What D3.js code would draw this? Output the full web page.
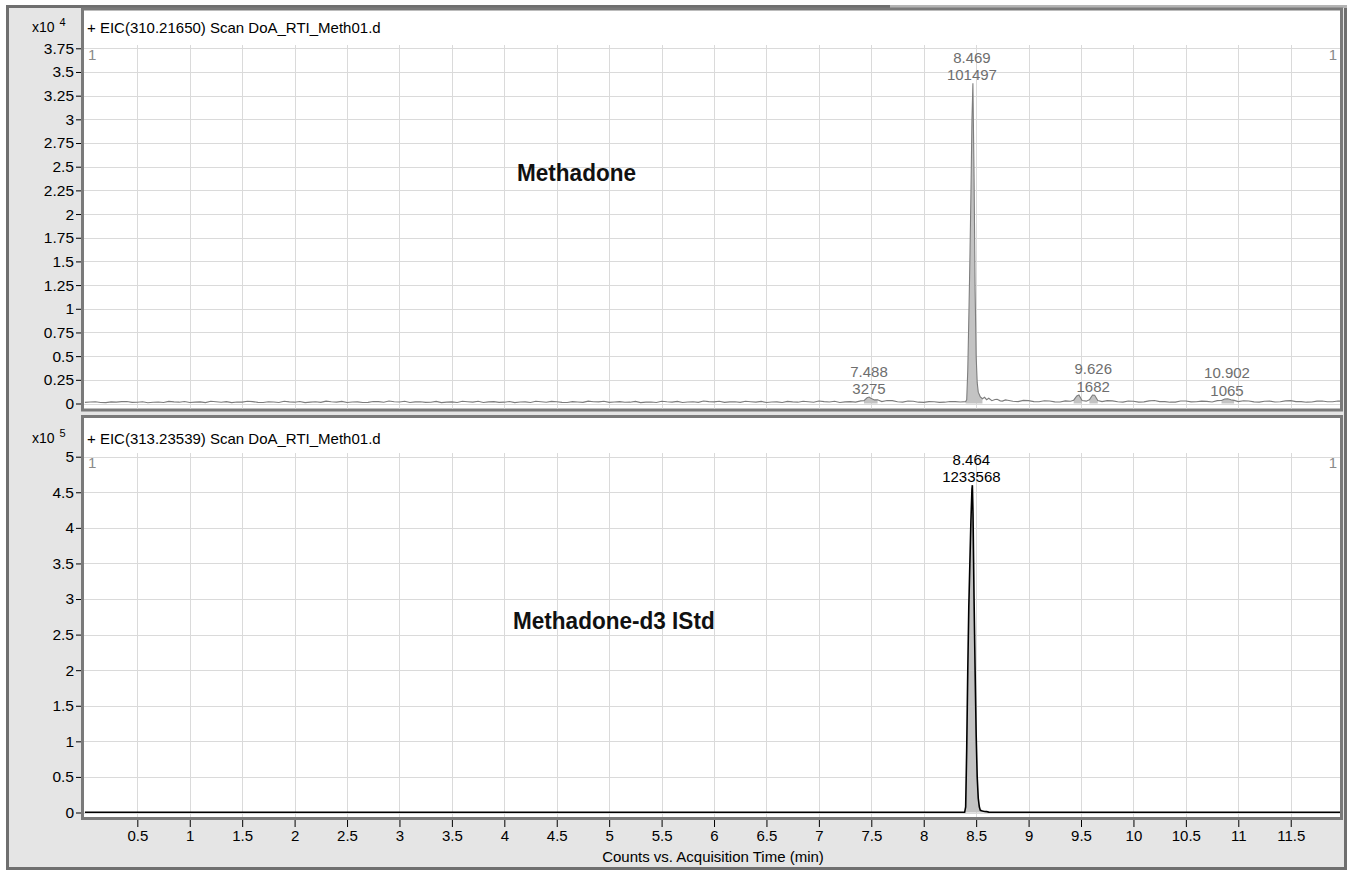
<!DOCTYPE html>
<html><head><meta charset="utf-8">
<script src="https://cdn.jsdelivr.net/npm/d3@7"></script>
<style>
html,body{margin:0;padding:0;background:#fff;}
svg{display:block;}
text{font-family:"Liberation Sans",Arial,sans-serif;}
</style>
</head><body>
<svg id="c" width="1349" height="873"></svg>
<script>
// ---------- data ----------
const xTicks = [0.5,1,1.5,2,2.5,3,3.5,4,4.5,5,5.5,6,6.5,7,7.5,8,8.5,9,9.5,10,10.5,11,11.5];
const topYTicks = [0,0.25,0.5,0.75,1,1.25,1.5,1.75,2,2.25,2.5,2.75,3,3.25,3.5,3.75]; // x10^4
const botYTicks = [0,0.5,1,1.5,2,2.5,3,3.5,4,4.5,5];                                 // x10^5
const topTitle = "+ EIC(310.21650) Scan DoA_RTI_Meth01.d";
const botTitle = "+ EIC(313.23539) Scan DoA_RTI_Meth01.d";
const topCompound = "Methadone";
const botCompound = "Methadone-d3 IStd";
const xAxisTitle = "Counts vs. Acquisition Time (min)";

// EIC 310.21650 : [time (min), counts]
const topTrace = [
 [0.00,120],[0.05,160],[0.10,180],[0.15,110],[0.20,90],[0.25,170],[0.30,150],[0.35,200],[0.40,210],[0.45,120],
 [0.50,130],[0.55,190],[0.60,80],[0.65,140],[0.70,160],[0.75,100],[0.80,220],[0.85,170],[0.90,140],[0.95,210],
 [1.00,100],[1.05,150],[1.10,170],[1.15,90],[1.20,240],[1.25,180],[1.30,130],[1.35,200],[1.40,90],[1.45,160],
 [1.50,150],[1.55,230],[1.60,200],[1.65,120],[1.70,110],[1.75,190],[1.80,160],[1.85,100],[1.90,230],[1.95,170],
 [2.00,140],[2.05,210],[2.10,90],[2.15,150],[2.20,180],[2.25,120],[2.30,250],[2.35,190],[2.40,150],[2.45,220],
 [2.50,100],[2.55,160],[2.60,170],[2.65,110],[2.70,120],[2.75,210],[2.80,200],[2.85,140],[2.90,260],[2.95,180],
 [3.00,160],[3.05,230],[3.10,110],[3.15,170],[3.20,190],[3.25,120],[3.30,130],[3.35,220],[3.40,90],[3.45,150],
 [3.50,170],[3.55,110],[3.60,240],[3.65,190],[3.70,150],[3.75,230],[3.80,110],[3.85,170],[3.90,200],[3.95,120],
 [4.00,140],[4.05,210],[4.10,90],[4.15,160],[4.20,170],[4.25,110],[4.30,230],[4.35,180],[4.40,140],[4.45,220],
 [4.50,180],[4.55,120],[4.60,110],[4.65,200],[4.70,160],[4.75,120],[4.80,250],[4.85,190],[4.90,170],[4.95,230],
 [5.00,120],[5.05,160],[5.10,200],[5.15,130],[5.20,140],[5.25,220],[5.30,90],[5.35,150],[5.40,160],[5.45,110],
 [5.50,230],[5.55,180],[5.60,150],[5.65,220],[5.70,100],[5.75,160],[5.80,190],[5.85,120],[5.90,260],[5.95,200],
 [6.00,170],[6.05,240],[6.10,120],[6.15,170],[6.20,180],[6.25,120],[6.30,240],[6.35,190],[6.40,150],[6.45,220],
 [6.50,100],[6.55,160],[6.60,170],[6.65,110],[6.70,220],[6.75,170],[6.80,140],[6.85,230],[6.90,190],[6.95,140],
 [7.00,260],[7.05,200],[7.10,160],[7.15,230],[7.20,110],[7.25,170],[7.30,200],[7.35,150],[7.40,280],[7.43,300],
 [7.46,600],[7.48,680],[7.50,520],[7.53,380],[7.56,400],[7.60,200],[7.65,320],[7.70,300],[7.75,190],[7.80,150],
 [7.85,260],[7.90,230],[7.95,140],[8.00,120],[8.05,200],[8.10,180],[8.15,120],[8.20,140],[8.25,210],[8.30,200],
 [8.35,160],[8.40,200],[8.41,400],[8.42,3500],[8.43,9000],[8.44,15000],[8.45,22000],[8.46,30000],[8.469,33800],[8.48,24000],
 [8.49,12000],[8.50,5000],[8.51,2200],[8.52,1200],[8.54,700],[8.56,500],[8.58,650],[8.60,400],[8.62,550],[8.65,300],
 [8.68,420],[8.70,450],[8.73,280],[8.75,250],[8.78,380],[8.80,350],[8.85,240],[8.90,200],[8.95,330],[9.00,300],
 [9.05,200],[9.10,180],[9.15,290],[9.20,260],[9.25,170],[9.30,160],[9.35,280],[9.40,240],[9.43,350],[9.46,800],
 [9.48,900],[9.51,320],[9.55,250],[9.58,400],[9.61,900],[9.63,880],[9.66,320],[9.70,200],[9.75,300],[9.80,280],
 [9.85,180],[9.90,150],[9.95,260],[10.00,230],[10.05,150],[10.10,170],[10.15,280],[10.20,310],[10.25,200],[10.30,200],
 [10.35,140],[10.40,150],[10.45,270],[10.50,260],[10.55,170],[10.60,180],[10.65,250],[10.70,220],[10.75,160],[10.80,300],
 [10.84,320],[10.87,480],[10.90,500],[10.93,400],[10.96,330],[11.00,200],[11.05,290],[11.10,260],[11.15,170],[11.20,150],
 [11.25,240],[11.30,250],[11.35,160],[11.40,180],[11.45,280],[11.50,300],[11.55,200],[11.60,200],[11.65,140],[11.70,160],
 [11.75,250],[11.80,270],[11.85,180],[11.90,190],[11.95,260],[12.00,230]
];
// EIC 313.23539 : [time (min), counts]
const botTrace = [
 [0.0,300],[2.0,300],[4.0,300],[6.0,300],[8.0,300],[8.39,300],[8.40,8000],[8.41,90000],[8.42,200000],[8.43,290000],
 [8.44,350000],[8.45,410000],[8.46,455000],[8.464,460000],[8.47,420000],[8.48,300000],[8.49,200000],[8.50,110000],[8.51,50000],[8.52,20000],
 [8.53,8000],[8.54,3000],[8.56,2000],[8.58,1500],[8.60,1200],[8.62,500],[8.63,300],[10.0,300],[12.0,300]
];
// integrated peaks: retention time, area, integration window
const topPeakRT   = [7.488, 8.469, 9.626, 10.902];
const topPeakArea = [3275, 101497, 1682, 1065];
const topWindows  = [[7.43,7.56],[8.40,8.56],[9.43,9.51],[9.58,9.66],[10.84,10.96]];
const botPeakRT   = [8.464];
const botPeakArea = [1233568];
const botWindows  = [[8.39,8.60]];

// ---------- layout ----------
const svg = d3.select("#c");
const W = 1349, H = 873;
const plotL = 84, plotR = 1340;

svg.append("rect").attr("width",W).attr("height",H).attr("fill","#ffffff");
svg.append("rect").attr("x",7.5).attr("y",6.5).attr("width",1338).attr("height",862)
   .attr("fill","#e5e5e5").attr("stroke","#6f6f6f").attr("stroke-width",3);
// lighter right part of the top frame edge
svg.append("line").attr("x1",890).attr("x2",1347).attr("y1",6.5).attr("y2",6.5)
   .attr("stroke","#b4b4b4").attr("stroke-width",3);

const x = d3.scaleLinear().domain([0, 11.97]).range([84.9, plotR]);

const panels = [
  {top:9, bottom:410, y:d3.scaleLinear().domain([0,37500]).range([403.5,48.3]), ticks:topYTicks, mult:1e4, exp:"4",
   title:topTitle, trace:topTrace, rts:topPeakRT, areas:topPeakArea, wins:topWindows,
   lineColor:"#7d7d7d", labelColor:"#6e6e6e", lineW:1.1, compound:topCompound, cy:181, cx:517, titleY:33, gridTop:45},
  {top:416.5, bottom:818.5, y:d3.scaleLinear().domain([0,500000]).range([812.5,456.7]), ticks:botYTicks, mult:1e5, exp:"5",
   title:botTitle, trace:botTrace, rts:botPeakRT, areas:botPeakArea, wins:botWindows,
   lineColor:"#000000", labelColor:"#000000", lineW:1.6, compound:botCompound, cy:629, cx:513, titleY:444, gridTop:453}
];

panels.forEach((p,i)=>{
  const g = svg.append("g");
  g.append("rect").attr("x",82.5).attr("y",p.top).attr("width",1259).attr("height",p.bottom-p.top)
    .attr("fill","#ffffff").attr("stroke","#7a7a7a").attr("stroke-width",3);
  const clipId = "clip"+i;
  svg.append("clipPath").attr("id",clipId).append("rect")
    .attr("x",plotL).attr("y",p.top+1.5).attr("width",plotR-plotL).attr("height",p.bottom-p.top-3);
  const inner = g.append("g").attr("clip-path","url(#"+clipId+")");
  // grid
  inner.selectAll(".vg").data(xTicks).join("line")
    .attr("x1",d=>Math.round(x(d))+0.5).attr("x2",d=>Math.round(x(d))+0.5)
    .attr("y1",p.gridTop).attr("y2",p.bottom).attr("stroke","#dadada").attr("stroke-width",1);
  inner.selectAll(".hg").data(p.ticks).join("line")
    .attr("x1",plotL).attr("x2",plotR)
    .attr("y1",d=>Math.round(p.y(d*p.mult))+0.5).attr("y2",d=>Math.round(p.y(d*p.mult))+0.5)
    .attr("stroke","#dadada").attr("stroke-width",1);
  // filled integrated peaks
  p.wins.forEach(w=>{
    const pts = p.trace.filter(d=>d[0]>=w[0]-1e-9 && d[0]<=w[1]+1e-9);
    inner.append("path").datum(pts)
      .attr("d", d3.area().x(d=>x(d[0])).y0(p.y(0)).y1(d=>p.y(d[1])))
      .attr("fill","#c3c3c3");
  });
  // trace
  inner.append("path").datum(p.trace)
    .attr("d", d3.line().x(d=>x(d[0])).y(d=>p.y(d[1])))
    .attr("fill","none").attr("stroke",p.lineColor).attr("stroke-width",p.lineW);
  // peak labels
  p.rts.forEach((rt,k)=>{
    const near = p.trace.filter(d=>Math.abs(d[0]-rt)<0.05);
    const apex = d3.max(near,d=>d[1]);
    const by = p.y(apex) - 3;
    const t = inner.append("text").attr("text-anchor","middle").attr("fill",p.labelColor)
      .attr("font-size",15);
    t.append("tspan").attr("x",x(rt)-1).attr("y",by-17.5).text(rt.toFixed(3));
    t.append("tspan").attr("x",x(rt)-1).attr("y",by).text(p.areas[k]);
  });
  // cursor markers "1"
  g.append("text").attr("x",88).attr("y",p.gridTop+15).attr("font-size",15).attr("fill","#8a8a8a").text("1");
  g.append("text").attr("x",1337).attr("y",p.gridTop+15).attr("font-size",15).attr("fill","#8a8a8a")
    .attr("text-anchor","end").text("1");
  // title
  g.append("text").attr("x",87).attr("y",p.titleY).attr("font-size",15).attr("fill","#000").text(p.title);
  // compound label (bold, slightly condensed)
  g.append("text").attr("transform",`translate(${p.cx},${p.cy}) scale(0.94,1)`)
    .attr("font-size",24).attr("font-weight","bold").attr("fill","#111").text(p.compound);
  // y axis
  const ax = d3.axisLeft(p.y).tickValues(p.ticks.map(v=>v*p.mult))
    .tickFormat(v=>d3.format("~g")(+(v/p.mult).toFixed(2))).tickSize(5).tickPadding(2);
  const ag = g.append("g").attr("transform","translate(81,0)").call(ax);
  ag.select(".domain").remove();
  ag.selectAll("line").attr("stroke","#000");
  ag.selectAll("text").attr("font-size",15.5).attr("fill","#000").attr("font-family","Liberation Sans, Arial, sans-serif");
  // exponent
  const ex = g.append("text").attr("x",32).attr("y",p.titleY-1).attr("font-size",14).attr("fill","#000");
  ex.append("tspan").text("x10");
  ex.append("tspan").attr("dx",5).attr("dy",-6).attr("font-size",11).text(p.exp);
});

// x axis under bottom panel
const xa = d3.axisBottom(x).tickValues(xTicks).tickFormat(d3.format("~g")).tickSize(7).tickPadding(3);
const xg = svg.append("g").attr("transform","translate(0,820)").call(xa);
xg.select(".domain").remove();
xg.selectAll("line").attr("stroke","#000");
xg.selectAll("text").attr("font-size",15).attr("fill","#000").attr("font-family","Liberation Sans, Arial, sans-serif");

svg.append("text").attr("x",713).attr("y",862).attr("text-anchor","middle").attr("font-size",15)
  .attr("fill","#000").text(xAxisTitle);
</script>
</body></html>
